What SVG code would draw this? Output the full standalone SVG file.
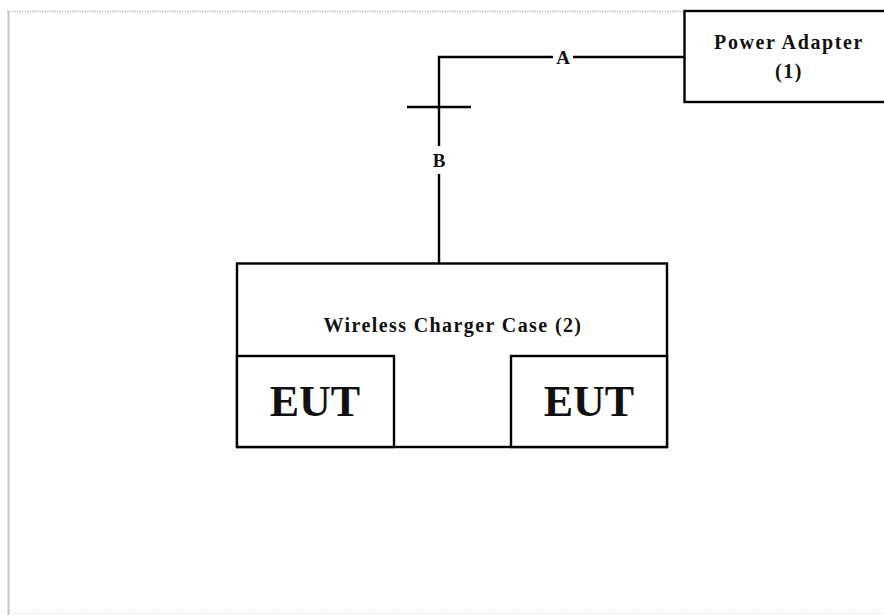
<svg xmlns="http://www.w3.org/2000/svg" width="884" height="615" viewBox="0 0 884 615">
<style>
.box{fill:#fff;stroke:#000;stroke-width:2.4}
.ln{fill:none;stroke:#000;stroke-width:2.4}
.t{font-family:"Liberation Serif","Times New Roman",serif;font-weight:bold;fill:#111;text-anchor:middle}
.frame{stroke:#c4c4c4;fill:none}
</style>
<rect width="884" height="615" fill="#fff"/>
<g id="frame">
<line class="frame" x1="7" y1="11.5" x2="684" y2="11.5" stroke-width="1.5" stroke-dasharray="1.5 1"/>
<line class="frame" x1="8.5" y1="11" x2="8.5" y2="615" stroke-width="2"/>
<line class="frame" x1="8" y1="613.5" x2="884" y2="613.5" stroke-width="1" stroke-dasharray="1.5 1.5" opacity="0.6"/>
</g>
<g id="connectors">
<path class="ln" d="M684 57 H439 V263"/>
<line class="ln" x1="407" y1="107" x2="471" y2="107"/>
<rect x="553" y="46" width="20" height="20" fill="#fff"/>
<text class="t" x="563" y="64" font-size="19">A</text>
<rect x="428" y="146" width="22" height="28" fill="#fff"/>
<text class="t" x="439" y="167" font-size="19">B</text>
</g>
<g id="power-adapter">
<rect class="box" x="684.5" y="11" width="210" height="91"/>
<text class="t" x="789" y="49" font-size="20" letter-spacing="1.6">Power Adapter</text>
<text class="t" x="789" y="78" font-size="20" letter-spacing="1.6">(1)</text>
</g>
<g id="charger-case">
<rect class="box" x="237" y="263.5" width="430" height="183.5"/>
<text class="t" x="453" y="332" font-size="20" letter-spacing="1.4">Wireless Charger Case (2)</text>
</g>
<g id="eut-left">
<rect class="box" x="237" y="356" width="157" height="91"/>
<text class="t" x="315" y="416" font-size="44">EUT</text>
</g>
<g id="eut-right">
<rect class="box" x="511" y="356" width="156" height="91"/>
<text class="t" x="589" y="416" font-size="44">EUT</text>
</g>
</svg>
